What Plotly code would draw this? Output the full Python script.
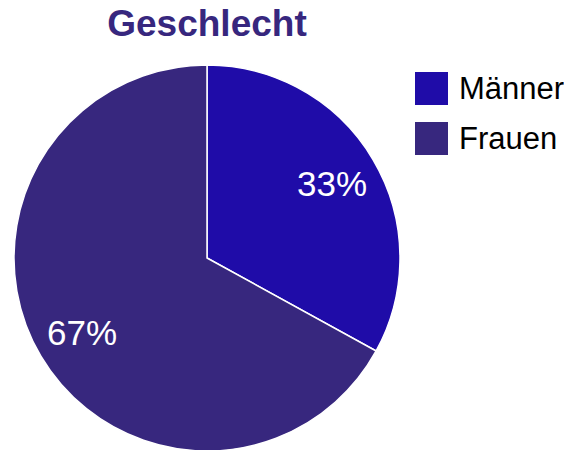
import math
import plotly.graph_objects as go

labels = ["Männer", "Frauen"]
values = [33, 67]
colors = ["#1f0ca8", "#37277e"]

W, H = 572, 450
FONT = "Liberation Sans, Arial"

# pie geometry (figure pixels; the html body adds an 8px offset on the page)
cx, cy, R = 199, 250, 193

fig = go.Figure(go.Pie(
    labels=labels,
    values=values,
    sort=False,
    direction="clockwise",
    rotation=0,
    marker=dict(colors=colors, line=dict(color="white", width=1.5)),
    textinfo="none",
    showlegend=False,
    domain=dict(x=[(cx - R) / W, (cx + R) / W], y=[1 - (cy + R) / H, 1 - (cy - R) / H]),
    hoverinfo="label+percent",
))

# percent labels placed along each slice's mid angle
total = sum(values)
start = 0.0
annotations = []
for v in values:
    frac = v / total
    mid = (start + frac / 2) * 2 * math.pi
    start += frac
    px = cx + 0.755 * R * math.sin(mid)
    py = cy - 0.755 * R * math.cos(mid)
    annotations.append(dict(
        x=px / W, y=1 - py / H, xref="paper", yref="paper",
        text=f"{round(frac * 100)}%", showarrow=False,
        xanchor="center", yanchor="middle",
        font=dict(size=35, color="white", family=FONT),
    ))

# legend built from labels / colours
shapes = []
for i, (lab, col) in enumerate(zip(labels, colors)):
    top = 64 + 50 * i
    shapes.append(dict(type="rect", xref="paper", yref="paper",
                       x0=407 / W, x1=440 / W, y0=1 - (top + 33) / H, y1=1 - top / H,
                       fillcolor=col, line=dict(width=0)))
    annotations.append(dict(
        x=449 / W, y=1 - (top + 16.5) / H, xref="paper", yref="paper",
        text=lab, showarrow=False, xanchor="left", yanchor="middle",
        font=dict(size=31, color="#000000", family=FONT),
    ))

fig.update_layout(
    width=W, height=H,
    margin=dict(l=0, r=0, t=0, b=0),
    paper_bgcolor="white",
    font=dict(family=FONT, color="#000000"),
    title=dict(text="<b>Geschlecht</b>", x=cx / W, xanchor="center", y=1 - 15 / H, yanchor="middle",
               font=dict(size=37, color="#37277e", family=FONT)),
    showlegend=False,
    shapes=shapes,
    annotations=annotations,
)

fig.write_html("out.html")
